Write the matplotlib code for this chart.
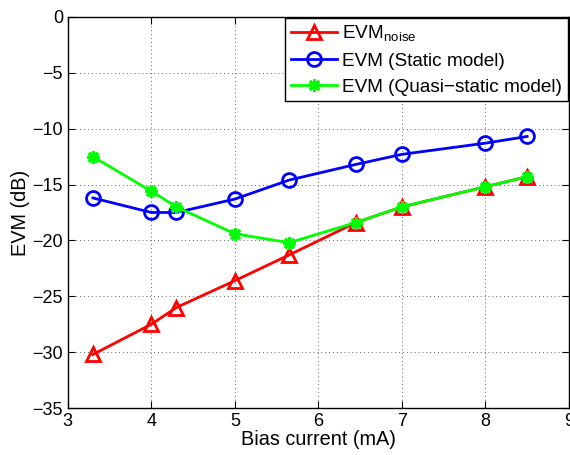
import matplotlib
matplotlib.use('Agg')
import matplotlib.pyplot as plt

plt.rcParams['font.family'] = ['Liberation Sans', 'DejaVu Sans']
plt.rcParams['mathtext.fontset'] = 'custom'
plt.rcParams['mathtext.rm'] = 'Liberation Sans'

# Data
bias = [3.3, 4.0, 4.3, 5.0, 5.65, 6.45, 7.0, 8.0, 8.5]
evm_noise = [-30.2, -27.5, -26.0, -23.6, -21.3, -18.4, -17.0, -15.2, -14.3]
evm_static = [-16.2, -17.5, -17.5, -16.3, -14.6, -13.2, -12.3, -11.3, -10.7]
evm_quasi = [-12.5, -15.6, -17.0, -19.4, -20.2, -18.4, -17.0, -15.2, -14.3]

xticks = [3, 4, 5, 6, 7, 8, 9]
yticks = [0, -5, -10, -15, -20, -25, -30, -35]

fig = plt.figure(figsize=(5.7, 4.55), dpi=100)
ax = fig.add_axes([0.119, 0.103, 0.879, 0.860])

ax.plot(bias, evm_noise, '-', color='red', lw=2, marker='^', ms=10,
        mfc='none', mew=2, label=r'EVM$_{\mathrm{noise}}$')
ax.plot(bias, evm_static, '-', color='blue', lw=2, marker='o', ms=10,
        mfc='none', mew=2, label='EVM (Static model)')
ax.plot(bias, evm_quasi, '-', color='#00ff00', lw=2, marker=(8, 2, 0), ms=9,
        mew=2, label='EVM (Quasi\u2212static model)')

ax.set_xlim(3, 9)
ax.set_ylim(-35, 0)
ax.set_xticks(xticks)
ax.set_yticks(yticks)
ax.tick_params(direction='in', labelsize=13, length=5, top=True, right=True)
ax.grid(True, linestyle=(0, (1, 3)), color='#606060', lw=0.7)
ax.set_xlabel('Bias current (mA)', fontsize=14.3, labelpad=0)
ax.set_ylabel('EVM (dB)', fontsize=14.3, labelpad=2)
for s in ax.spines.values():
    s.set_linewidth(1.0)

leg = ax.legend(loc='upper right', fontsize=13.7, fancybox=False, framealpha=1,
                edgecolor='black', borderpad=0.3, labelspacing=0.45,
                handlelength=2.4, handletextpad=0.3, borderaxespad=0.05)
leg.get_frame().set_linewidth(1.0)

fig.savefig('out.png', dpi=100)
